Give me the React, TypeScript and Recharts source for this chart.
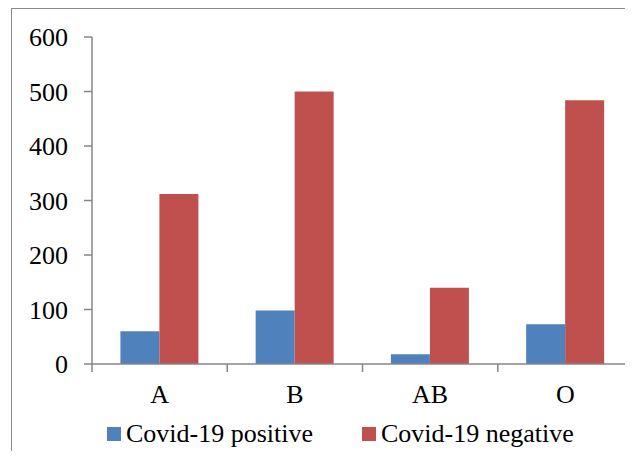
import { BarChart, Bar, XAxis, YAxis, Legend } from 'recharts'

const categories = ['A', 'B', 'AB', 'O']
const positiveValues = [60, 98, 18, 73]
const negativeValues = [312, 500, 140, 484]
const yTicks = [0, 100, 200, 300, 400, 500, 600]

const seriesNames = { positive: 'Covid-19 positive', negative: 'Covid-19 negative' }
const seriesColors = { positive: '#4F81BD', negative: '#C0504D' }

const data = categories.map((c, i) => ({
  group: c,
  positive: positiveValues[i],
  negative: negativeValues[i],
}))

const CHART_W = 633
const CHART_H = 459
const Y_AXIS_W = 92
const MARGIN = { top: 37, right: 0, left: 0, bottom: 5 }
const BAND = (CHART_W - Y_AXIS_W - MARGIN.left - MARGIN.right) / categories.length
const X_TICK_SIZE = 8
const X_TICK_MARGIN = 13
const AXIS_COLOR = '#868686'
const FONT = "'Liberation Serif', 'Times New Roman', serif"

function ValueTick({ x, y, payload }: any) {
  return (
    <text x={x} y={y} dy="0.355em" textAnchor="end" fill="#000" fontSize={26} style={{ fontFamily: FONT }}>
      {payload.value}
    </text>
  )
}

function CategoryTick({ x, y, payload, index }: any) {
  const top = y - X_TICK_MARGIN - X_TICK_SIZE
  const bottom = y - X_TICK_MARGIN
  return (
    <g>
      {index === 0 && (
        <line x1={x - BAND / 2} x2={x - BAND / 2} y1={top} y2={bottom} stroke={AXIS_COLOR} strokeWidth={1.5} />
      )}
      <line x1={x + BAND / 2} x2={x + BAND / 2} y1={top} y2={bottom} stroke={AXIS_COLOR} strokeWidth={1.5} />
      <text x={x} y={y} dy="0.71em" textAnchor="middle" fill="#000" fontSize={26} style={{ fontFamily: FONT }}>
        {payload.value}
      </text>
    </g>
  )
}

function LegendContent() {
  const items = [
    { key: 'positive', w: 255 },
    { key: 'negative', w: 260 },
  ] as const
  return (
    <div style={{ display: 'flex', alignItems: 'center', height: 40, paddingLeft: 107, fontFamily: FONT, fontSize: 26, color: '#000' }}>
      {items.map((it) => (
        <div key={it.key} style={{ display: 'flex', alignItems: 'center', width: it.w, whiteSpace: 'nowrap' }}>
          <span style={{ display: 'inline-block', width: 14, height: 14, background: seriesColors[it.key], marginRight: 5 }} />
          <span>{seriesNames[it.key]}</span>
        </div>
      ))}
    </div>
  )
}

export default function App() {
  return (
    <div style={{ position: 'relative', width: CHART_W, height: CHART_H, margin: -8, overflow: 'hidden', background: '#fff', fontFamily: FONT }}>
      <div
        style={{
          position: 'absolute', left: 11, top: 8, width: 700, height: 500,
          borderLeft: '1.5px solid #8a8a8a', borderTop: '1.5px solid #8a8a8a',
        }}
      />
      <div style={{ position: 'absolute', left: 0, top: 0 }}>
        <BarChart width={CHART_W} height={CHART_H} data={data} margin={MARGIN} barCategoryGap="21%" barGap={0}>
          <XAxis
            dataKey="group"
            height={50}
            tickSize={X_TICK_SIZE}
            tickMargin={X_TICK_MARGIN}
            tickLine={false}
            axisLine={{ stroke: AXIS_COLOR, strokeWidth: 1.5 }}
            tick={<CategoryTick />}
            interval={0}
          />
          <YAxis
            width={Y_AXIS_W}
            domain={[0, 600]}
            ticks={yTicks}
            interval={0}
            tickSize={8}
            tickMargin={16}
            axisLine={{ stroke: AXIS_COLOR, strokeWidth: 1.5 }}
            tickLine={{ stroke: AXIS_COLOR, strokeWidth: 1.5 }}
            tick={<ValueTick />}
          />
          <Legend verticalAlign="bottom" content={<LegendContent />} wrapperStyle={{ left: 0, width: CHART_W }} />
          <Bar dataKey="positive" name={seriesNames.positive} fill={seriesColors.positive} isAnimationActive={false} />
          <Bar dataKey="negative" name={seriesNames.negative} fill={seriesColors.negative} isAnimationActive={false} />
        </BarChart>
      </div>
    </div>
  )
}
